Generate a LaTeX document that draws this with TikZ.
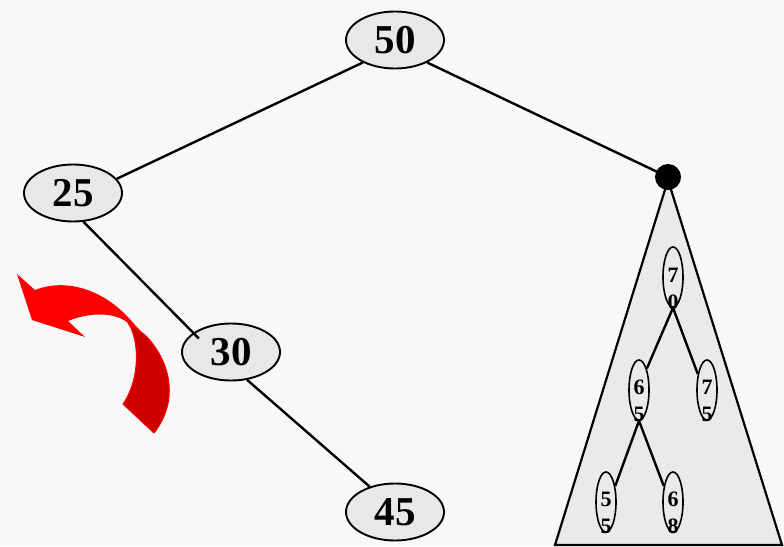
\documentclass[tikz,border=0pt]{standalone}
\usepackage{fontspec}
\setmainfont{Liberation Serif}
\usetikzlibrary{shapes.geometric}
\definecolor{bg}{HTML}{F8F8F8}
\definecolor{nodefill}{HTML}{E8E8E8}
\definecolor{trifill}{HTML}{EAEAEA}
\definecolor{darkred}{HTML}{CC0000}
\tikzset{
  bignode/.style={ellipse, draw=black, line width=1.9pt, fill=nodefill, minimum width=98pt, minimum height=57pt, inner sep=0pt, font=\fontsize{41}{41}\selectfont\bfseries},
  smallnode/.style={ellipse, draw=black, line width=1.6pt, minimum width=20pt, minimum height=60pt, inner sep=0pt},
  smalltext/.style={align=center, inner sep=0pt, font=\fontsize{22}{27}\selectfont\bfseries},
  edge/.style={line width=2.4pt, draw=black},
}
\begin{document}
\begin{tikzpicture}[x=1pt,y=-1pt]
\path[fill=bg,use as bounding box] (0,0) rectangle (784,546);
% triangle subtree
\coordinate (apex) at (668,180);
\coordinate (tl) at (555,545);
\coordinate (tr) at (782,545);
\draw[fill=trifill, line width=2.2pt, line join=miter] (apex) -- (tr) -- (tl) -- cycle;
% main nodes
\node[bignode] (n50) at (395,40) {50};
\node[bignode] (n25) at (73,193) {25};
\node[bignode] (n30) at (231,352) {30};
\node[bignode] (n45) at (395,512) {45};
\node[circle, fill=black, minimum size=26pt, inner sep=0pt] (dot) at (668,177) {};
% main edges
\draw[edge] (n50.215) -- (n25.18);
\draw[edge] (n50.-35) -- (dot.center);
\draw[edge, shorten >=-8pt] (n25.-70) -- (n30.153);
\draw[edge] (n30.-60) -- (n45.135);
% small tree
\node[smallnode] (t70) at (673,277) {};
\node[smallnode] (t65) at (639,390) {};
\node[smallnode] (t75) at (707,390) {};
\node[smallnode] (t55) at (606,502) {};
\node[smallnode] (t68) at (673,502) {};
\node[smalltext] (l70) at (673,289) {7\\0};
\node[smalltext] (l65) at (639,401) {6\\5};
\node[smalltext] (l75) at (707,401) {7\\5};
\node[smalltext] (l55) at (606,513) {5\\5};
\node[smalltext] (l68) at (673,513) {6\\8};
\draw[edge] (t70.south) -- (t65.70);
\draw[edge] (t70.south) -- (t75.120);
\draw[edge] (t65.south) -- (t55.60);
\draw[edge] (t65.south) -- (t68.120);
% red rotation arrow
\fill[red] (17,274) -- (35,290) .. controls (65,278) and (105,288) .. (135,325)
  .. controls (170,360) and (180,400) .. (154,433) -- (123,404)
  .. controls (140,380) and (140,340) .. (128,323)
  .. controls (115,312) and (90,312) .. (68,321) -- (85,337) -- (32,320) -- cycle;
\draw[fill=darkred, draw=red, line width=1pt, line join=round] (128,323) .. controls (140,340) and (140,380) .. (123,404) -- (154,433)
  .. controls (180,400) and (170,360) .. (145,335) -- cycle;
\end{tikzpicture}
\end{document}
